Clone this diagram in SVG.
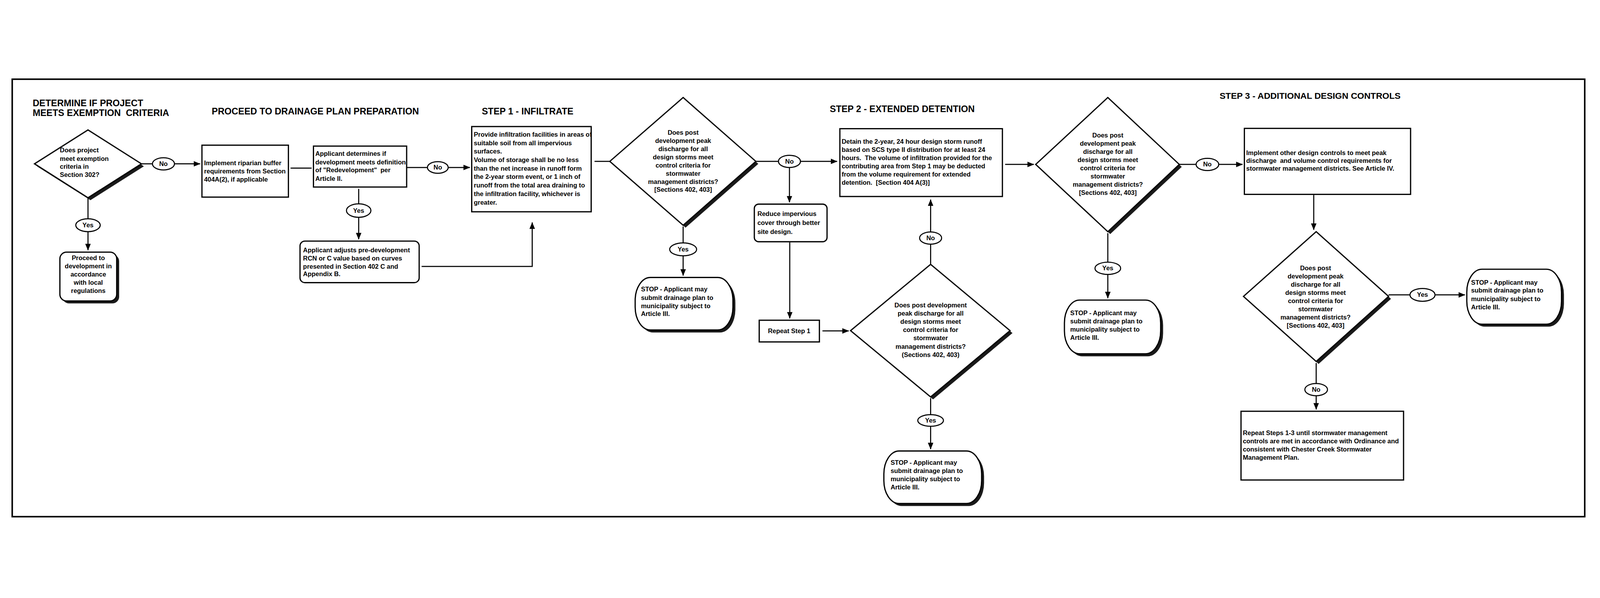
<svg xmlns="http://www.w3.org/2000/svg" width="5237" height="1531" viewBox="0 0 5237 1531">
<style>
svg{width:100vw;height:100vh}
.t{font-family:"Liberation Sans",Arial,sans-serif;font-weight:bold;font-size:21px;fill:#000}
.c{text-anchor:middle}
.h{font-size:30px}
.box{fill:#fff;stroke:#000;stroke-width:4}
.sh{fill:#1a1a1a}
.ln{stroke:#000;stroke-width:3.5;fill:none}
.lb{fill:#fff;stroke:#000;stroke-width:3.5}
</style>
<defs>
<marker id="ah" viewBox="0 0 22 18" refX="21" refY="9" markerWidth="22" markerHeight="18" markerUnits="userSpaceOnUse" orient="auto"><path d="M0,0 L22,9 L0,18 z" fill="#000"/></marker>
</defs>
<rect x="0" y="0" width="5237" height="1531" fill="#fff"/>
<rect x="40" y="46" width="5147" height="1432" fill="none" stroke="#000" stroke-width="5"/>
<g id="titles">
<text class="t h" x="107" y="134">DETERMINE IF PROJECT</text>
<text class="t h" x="107" y="167" xml:space="preserve">MEETS EXEMPTION  CRITERIA</text>
<text class="t h" x="693" y="162">PROCEED TO DRAINAGE PLAN PREPARATION</text>
<text class="t h" x="1577" y="162">STEP 1 - INFILTRATE</text>
<text class="t h" x="2716" y="154">STEP 2 - EXTENDED DETENTION</text>
<text class="t h" x="3992" y="110" style="font-size:29px">STEP 3 - ADDITIONAL DESIGN CONTROLS</text>
</g>
<g id="connectors">
<line class="ln" x1="463" y1="323" x2="499" y2="323"/>
<line class="ln" x1="571" y1="323" x2="655" y2="323" marker-end="url(#ah)"/>
<line class="ln" x1="288" y1="434" x2="288" y2="503"/>
<line class="ln" x1="288" y1="545" x2="288" y2="606" marker-end="url(#ah)"/>
<line class="ln" x1="951" y1="337" x2="1020" y2="337"/>
<line class="ln" x1="1331" y1="335" x2="1399" y2="335"/>
<line class="ln" x1="1467" y1="335" x2="1538" y2="335" marker-end="url(#ah)"/>
<line class="ln" x1="1174" y1="405" x2="1174" y2="454"/>
<line class="ln" x1="1174" y1="498" x2="1174" y2="570" marker-end="url(#ah)"/>
<polyline class="ln" points="1380,659 1742,659 1742,515" marker-end="url(#ah)"/>
<line class="ln" x1="1946" y1="315" x2="1996" y2="315"/>
<line class="ln" x1="2236" y1="528" x2="2236" y2="582"/>
<line class="ln" x1="2236" y1="624" x2="2236" y2="689" marker-end="url(#ah)"/>
<line class="ln" x1="2474" y1="315" x2="2548" y2="315"/>
<line class="ln" x1="2620" y1="315" x2="2740" y2="315" marker-end="url(#ah)"/>
<line class="ln" x1="2584" y1="336" x2="2584" y2="449" marker-end="url(#ah)"/>
<line class="ln" x1="2585" y1="580" x2="2585" y2="829" marker-end="url(#ah)"/>
<line class="ln" x1="2692" y1="870" x2="2778" y2="870" marker-end="url(#ah)"/>
<line class="ln" x1="3046" y1="586" x2="3046" y2="652"/>
<line class="ln" x1="3046" y1="546" x2="3046" y2="440" marker-end="url(#ah)"/>
<line class="ln" x1="3046" y1="1090" x2="3046" y2="1145"/>
<line class="ln" x1="3046" y1="1183" x2="3046" y2="1257" marker-end="url(#ah)"/>
<line class="ln" x1="3290" y1="325" x2="3384" y2="325" marker-end="url(#ah)"/>
<line class="ln" x1="3860" y1="325" x2="3915" y2="325"/>
<line class="ln" x1="3989" y1="325" x2="4067" y2="325" marker-end="url(#ah)"/>
<line class="ln" x1="3626" y1="550" x2="3626" y2="645"/>
<line class="ln" x1="3626" y1="685" x2="3626" y2="763" marker-end="url(#ah)"/>
<line class="ln" x1="4300" y1="425" x2="4300" y2="539" marker-end="url(#ah)"/>
<line class="ln" x1="4545" y1="752" x2="4615" y2="752"/>
<line class="ln" x1="4697" y1="752" x2="4795" y2="752" marker-end="url(#ah)"/>
<line class="ln" x1="4308" y1="975" x2="4308" y2="1042"/>
<line class="ln" x1="4308" y1="1082" x2="4308" y2="1127" marker-end="url(#ah)"/>
</g>
<g id="n-exempt">
<polygon class="sh" points="121,331 296,220 471,331 296,442"/>
<polygon class="box" points="113,323 288,212 463,323 288,434"/>
<text class="t" x="196" y="286">Does project</text>
<text class="t" x="196" y="313">meet exemption</text>
<text class="t" x="196" y="339">criteria in</text>
<text class="t" x="196" y="366">Section 302?</text>
</g>
<g id="l-exempt-no"><ellipse class="lb" cx="535" cy="323" rx="36" ry="20"/><text class="t c" x="535" y="330">No</text></g>
<g id="l-exempt-yes"><ellipse class="lb" cx="288" cy="524" rx="40" ry="21"/><text class="t c" x="288" y="531">Yes</text></g>
<g id="n-proceed">
<rect class="sh" x="204" y="620" width="186" height="160" rx="22"/>
<rect class="box" x="196" y="612" width="186" height="160" rx="22"/>
<text class="t c" x="289" y="638">Proceed to</text>
<text class="t c" x="289" y="665">development in</text>
<text class="t c" x="289" y="692">accordance</text>
<text class="t c" x="289" y="719">with local</text>
<text class="t c" x="289" y="746">regulations</text>
</g>
<g id="n-riparian">
<rect class="box" x="661" y="262" width="283" height="170"/>
<text class="t" x="668" y="328">Implement riparian buffer</text>
<text class="t" x="668" y="355">requirements from Section</text>
<text class="t" x="668" y="381">404A(2), if applicable</text>
</g>
<g id="n-redev">
<rect class="box" x="1026" y="265" width="305" height="134"/>
<text class="t" x="1032" y="297">Applicant determines if</text>
<text class="t" x="1032" y="325">development meets definition</text>
<text class="t" x="1032" y="351" xml:space="preserve">of "Redevelopment"  per</text>
<text class="t" x="1032" y="379">Article II.</text>
</g>
<g id="l-redev-no"><ellipse class="lb" cx="1433" cy="335" rx="34" ry="19"/><text class="t c" x="1433" y="342">No</text></g>
<g id="l-redev-yes"><ellipse class="lb" cx="1174" cy="476" rx="40" ry="22"/><text class="t c" x="1174" y="483">Yes</text></g>
<g id="n-adjust">
<rect class="box" x="982" y="576" width="390" height="136" rx="16"/>
<text class="t" x="992" y="613">Applicant adjusts pre-development</text>
<text class="t" x="992" y="639">RCN or C value based on curves</text>
<text class="t" x="992" y="666">presented in Section 402 C and</text>
<text class="t" x="992" y="691">Appendix B.</text>
</g>
<g id="n-infiltrate">
<rect class="box" x="1544" y="201" width="391" height="279"/>
<text class="t" x="1551" y="234">Provide infiltration facilities in areas of</text>
<text class="t" x="1551" y="262">suitable soil from all impervious</text>
<text class="t" x="1551" y="289">surfaces.</text>
<text class="t" x="1551" y="317">Volume of storage shall be no less</text>
<text class="t" x="1551" y="345">than the net increase in runoff form</text>
<text class="t" x="1551" y="372">the 2-year storm event, or 1 inch of</text>
<text class="t" x="1551" y="401">runoff from the total area draining to</text>
<text class="t" x="1551" y="429">the infiltration facility, whichever is</text>
<text class="t" x="1551" y="457">greater.</text>
</g>
<g id="n-check1">
<polygon class="sh" points="2004,323 2244,114 2482,323 2244,532"/>
<polygon class="box" points="1996,315 2236,106 2474,315 2236,524"/>
<text class="t c" x="2236" y="228">Does post</text>
<text class="t c" x="2236" y="255">development peak</text>
<text class="t c" x="2236" y="282">discharge for all</text>
<text class="t c" x="2236" y="308">design storms meet</text>
<text class="t c" x="2236" y="335">control criteria for</text>
<text class="t c" x="2236" y="362">stormwater</text>
<text class="t c" x="2236" y="389">management districts?</text>
<text class="t c" x="2236" y="415">[Sections 402, 403]</text>
</g>
<g id="l-check1-yes"><ellipse class="lb" cx="2236" cy="603" rx="44" ry="21"/><text class="t c" x="2236" y="610">Yes</text></g>
<g id="l-check1-no"><ellipse class="lb" cx="2584" cy="315" rx="36" ry="20"/><text class="t c" x="2584" y="322">No</text></g>
<g id="n-stop1">
<rect class="sh" x="2087" y="703" width="320" height="172" rx="50" ry="75"/>
<rect class="box" x="2079" y="695" width="320" height="172" rx="50" ry="75"/>
<text class="t" x="2098" y="741">STOP - Applicant may</text>
<text class="t" x="2098" y="769">submit drainage plan to</text>
<text class="t" x="2098" y="795">municipality subject to</text>
<text class="t" x="2098" y="821">Article III.</text>
</g>
<g id="n-reduce">
<rect class="box" x="2469" y="455" width="238" height="123" rx="14"/>
<text class="t" x="2479" y="494">Reduce impervious</text>
<text class="t" x="2479" y="523">cover through better</text>
<text class="t" x="2479" y="552">site design.</text>
</g>
<g id="n-repeat1">
<rect class="box" x="2485" y="835" width="197" height="71"/>
<text class="t c" x="2583" y="878">Repeat Step 1</text>
</g>
<g id="n-detain">
<rect class="box" x="2749" y="208" width="532" height="222"/>
<text class="t" x="2755" y="257">Detain the 2-year, 24 hour design storm runoff</text>
<text class="t" x="2755" y="284">based on SCS type II distribution for at least 24</text>
<text class="t" x="2755" y="311" xml:space="preserve">hours.  The volume of infiltration provided for the</text>
<text class="t" x="2755" y="338">contributing area from Step 1 may be deducted</text>
<text class="t" x="2755" y="365">from the volume requirement for extended</text>
<text class="t" x="2755" y="392" xml:space="preserve">detention.  [Section 404 A(3)]</text>
</g>
<g id="n-check2">
<polygon class="sh" points="2792,877 3054,660 3314,877 3054,1094"/>
<polygon class="box" points="2784,869 3046,652 3306,869 3046,1086"/>
<text class="t c" x="3046" y="793">Does post development</text>
<text class="t c" x="3046" y="820">peak discharge for all</text>
<text class="t c" x="3046" y="847">design storms meet</text>
<text class="t c" x="3046" y="874">control criteria for</text>
<text class="t c" x="3046" y="901">stormwater</text>
<text class="t c" x="3046" y="928">management districts?</text>
<text class="t c" x="3046" y="955">(Sections 402, 403)</text>
</g>
<g id="l-check2-no"><ellipse class="lb" cx="3046" cy="566" rx="36" ry="20"/><text class="t c" x="3046" y="573">No</text></g>
<g id="l-check2-yes"><ellipse class="lb" cx="3046" cy="1163" rx="42" ry="19"/><text class="t c" x="3046" y="1170">Yes</text></g>
<g id="n-stop2">
<rect class="sh" x="2901" y="1271" width="320" height="172" rx="50" ry="75"/>
<rect class="box" x="2893" y="1263" width="320" height="172" rx="50" ry="75"/>
<text class="t" x="2915" y="1308">STOP - Applicant may</text>
<text class="t" x="2915" y="1335">submit drainage plan to</text>
<text class="t" x="2915" y="1362">municipality subject to</text>
<text class="t" x="2915" y="1389">Article III.</text>
</g>
<g id="n-check3">
<polygon class="sh" points="3398,333 3634,114 3868,333 3634,553"/>
<polygon class="box" points="3390,325 3626,106 3860,325 3626,545"/>
<text class="t c" x="3626" y="237">Does post</text>
<text class="t c" x="3626" y="264">development peak</text>
<text class="t c" x="3626" y="291">discharge for all</text>
<text class="t c" x="3626" y="318">design storms meet</text>
<text class="t c" x="3626" y="344">control criteria for</text>
<text class="t c" x="3626" y="371">stormwater</text>
<text class="t c" x="3626" y="398">management districts?</text>
<text class="t c" x="3626" y="425">[Sections 402, 403]</text>
</g>
<g id="l-check3-no"><ellipse class="lb" cx="3952" cy="325" rx="37" ry="20"/><text class="t c" x="3952" y="332">No</text></g>
<g id="l-check3-yes"><ellipse class="lb" cx="3626" cy="665" rx="42" ry="20"/><text class="t c" x="3626" y="672">Yes</text></g>
<g id="n-stop3">
<rect class="sh" x="3492" y="777" width="315" height="176" rx="50" ry="75"/>
<rect class="box" x="3484" y="769" width="315" height="176" rx="50" ry="75"/>
<text class="t" x="3503" y="819">STOP - Applicant may</text>
<text class="t" x="3503" y="845">submit drainage plan to</text>
<text class="t" x="3503" y="872">municipality subject to</text>
<text class="t" x="3503" y="899">Article III.</text>
</g>
<g id="n-other">
<rect class="box" x="4073" y="207" width="544" height="216"/>
<text class="t" x="4079" y="294">Implement other design controls to meet peak</text>
<text class="t" x="4079" y="320" xml:space="preserve">discharge  and volume control requirements for</text>
<text class="t" x="4079" y="346">stormwater management districts. See Article IV.</text>
</g>
<g id="n-check4">
<polygon class="sh" points="4078,765 4316,553 4553,765 4316,978"/>
<polygon class="box" points="4070,757 4308,545 4545,757 4308,970"/>
<text class="t c" x="4306" y="671">Does post</text>
<text class="t c" x="4306" y="698">development peak</text>
<text class="t c" x="4306" y="725">discharge for all</text>
<text class="t c" x="4306" y="752">design storms meet</text>
<text class="t c" x="4306" y="779">control criteria for</text>
<text class="t c" x="4306" y="806">stormwater</text>
<text class="t c" x="4306" y="833">management districts?</text>
<text class="t c" x="4306" y="859">[Sections 402, 403]</text>
</g>
<g id="l-check4-yes"><ellipse class="lb" cx="4656" cy="752" rx="41" ry="21"/><text class="t c" x="4656" y="759">Yes</text></g>
<g id="l-check4-no"><ellipse class="lb" cx="4308" cy="1062" rx="37" ry="20"/><text class="t c" x="4308" y="1069">No</text></g>
<g id="n-stop4">
<rect class="sh" x="4809" y="676" width="310" height="180" rx="50" ry="75"/>
<rect class="box" x="4801" y="668" width="310" height="180" rx="50" ry="75"/>
<text class="t" x="4815" y="719">STOP - Applicant may</text>
<text class="t" x="4815" y="745">submit drainage plan to</text>
<text class="t" x="4815" y="772">municipality subject to</text>
<text class="t" x="4815" y="799">Article III.</text>
</g>
<g id="n-repeat3">
<rect class="box" x="4062" y="1133" width="532" height="225"/>
<text class="t" x="4068" y="1211">Repeat Steps 1-3 until stormwater management</text>
<text class="t" x="4068" y="1238">controls are met in accordance with Ordinance and</text>
<text class="t" x="4068" y="1265">consistent with Chester Creek Stormwater</text>
<text class="t" x="4068" y="1292">Management Plan.</text>
</g>
</svg>
